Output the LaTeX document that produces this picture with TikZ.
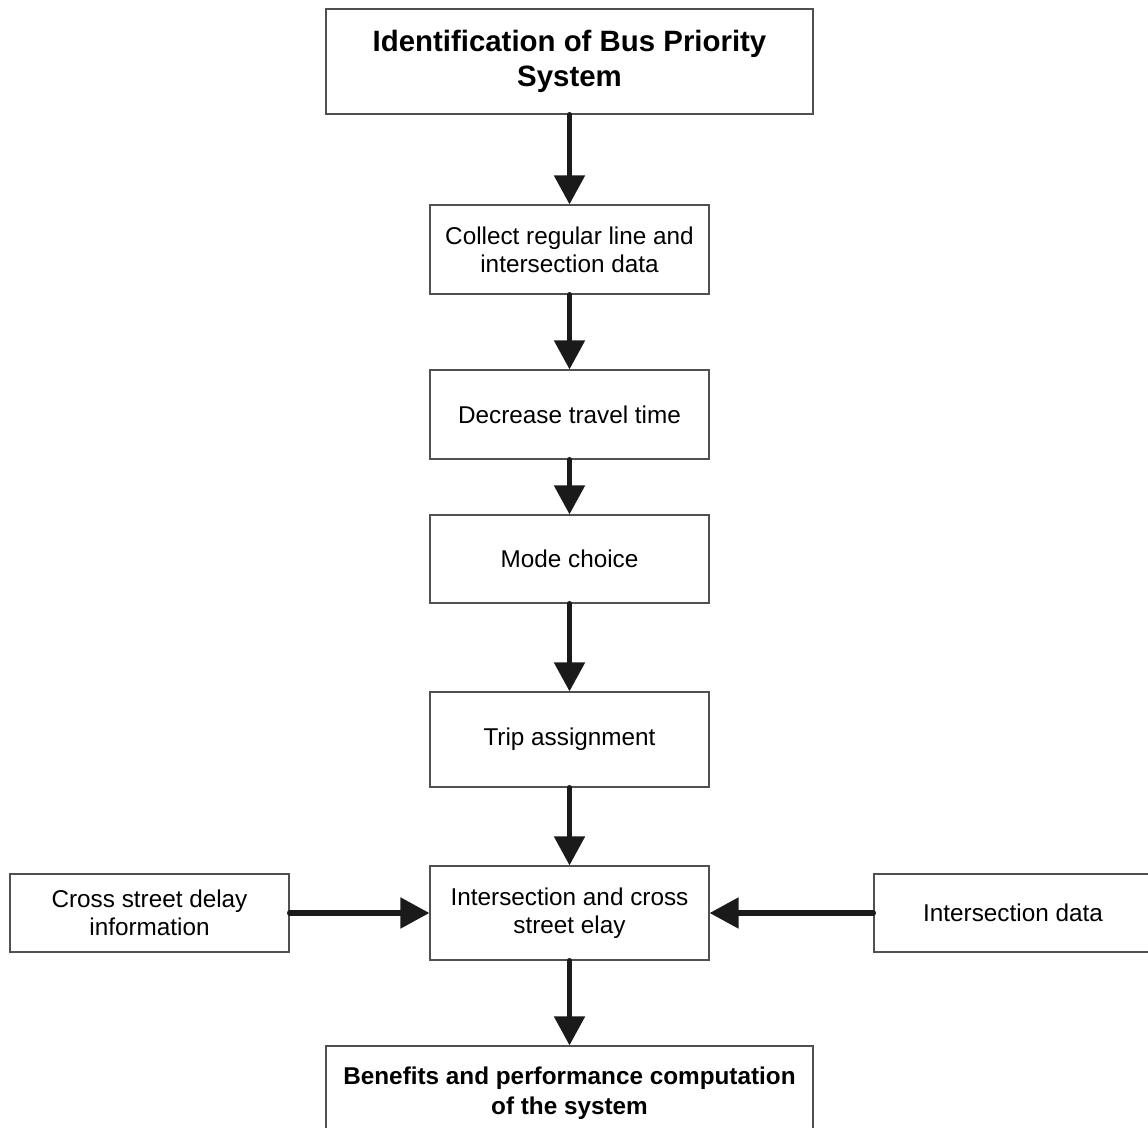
\documentclass[tikz,border=0pt]{standalone}
\usepackage{fontspec}
\setmainfont{Liberation Sans}
\usetikzlibrary{arrows.meta}
\definecolor{boxline}{HTML}{505050}
\definecolor{arrowcol}{HTML}{1A1A1A}
\begin{document}
\begin{tikzpicture}[x=0.5pt,y=-0.5pt,
  fbox/.style={draw=boxline, line width=0.6pt, rectangle, inner sep=0pt, align=center,
    font=\fontsize{12.15}{14}\selectfont},
  titlebox/.style={fbox, font=\fontsize{14.7}{17.5}\selectfont\bfseries},
  boldbox/.style={fbox, font=\fontsize{12.15}{15}\selectfont\bfseries},
  flow/.style={draw=arrowcol, line width=2.6pt, line cap=round,
    -{Triangle[length=14.5pt, width=15pt, fill=arrowcol]}}]
\useasboundingbox (0,0) rectangle (1148,1128);
\node[titlebox, minimum width=243.5pt, minimum height=52.5pt] (top) at (569.5,61.5)
  {Identification of Bus Priority\\System};
\node[fbox, minimum width=139.5pt, minimum height=44.5pt] (collect) at (569.5,249.5)
  {Collect regular line and\\intersection data};
\node[fbox, minimum width=139.5pt, minimum height=44.5pt] (decrease) at (569.5,414.5)
  {Decrease travel time};
\node[fbox, minimum width=139.5pt, minimum height=44pt] (mode) at (569.5,559)
  {Mode choice};
\node[fbox, minimum width=139.5pt, minimum height=47.5pt] (trip) at (569.5,739.5)
  {Trip assignment};
\node[fbox, minimum width=139.5pt, minimum height=47pt] (inter) at (569.5,913)
  {Intersection and cross\\street elay};
\node[fbox, minimum width=139.5pt, minimum height=39pt] (cross) at (149.5,913)
  {Cross street delay\\information};
\node[fbox, minimum width=139pt, minimum height=39pt] (idata) at (1013,913)
  {Intersection data};
\node[boldbox, minimum width=243.5pt, minimum height=47pt] (benefit) at (569.5,1093)
  {Benefits and performance computation\\of the system};
\draw[flow] (top.south) -- (collect.north);
\draw[flow] (collect.south) -- (decrease.north);
\draw[flow] (decrease.south) -- (mode.north);
\draw[flow] (mode.south) -- (trip.north);
\draw[flow] (trip.south) -- (inter.north);
\draw[flow] (inter.south) -- (benefit.north);
\draw[flow] (cross.east) -- (inter.west);
\draw[flow] (idata.west) -- (inter.east);
\end{tikzpicture}
\end{document}
